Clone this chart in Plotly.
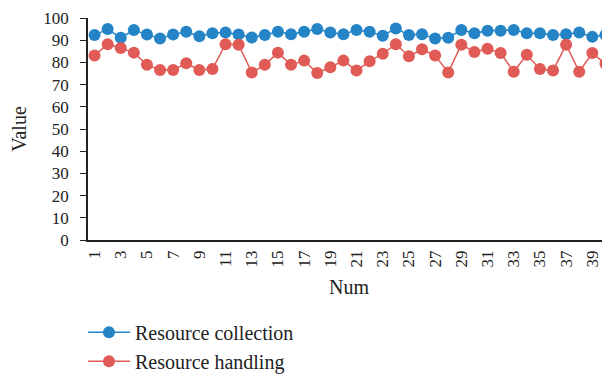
import plotly.graph_objects as go

num = list(range(1, 41))
resource_collection = [92.3, 95.0, 91.1, 94.6, 92.6, 90.8, 92.6, 93.8, 91.8, 93.1,
                       93.5, 92.6, 91.2, 92.3, 93.8, 92.7, 93.8, 95.0, 93.5, 92.7,
                       94.6, 93.8, 92.0, 95.3, 92.3, 92.7, 90.8, 91.1, 94.6, 93.1,
                       94.3, 94.3, 94.6, 93.1, 93.1, 92.3, 92.7, 93.5, 91.5, 92.3]
resource_handling = [83.1, 88.2, 86.5, 84.4, 78.9, 76.6, 76.6, 79.6, 76.6, 77.0,
                     88.2, 88.0, 75.5, 78.9, 84.4, 78.9, 80.8, 75.2, 77.8, 80.8,
                     76.3, 80.5, 83.9, 88.2, 82.8, 85.9, 83.1, 75.5, 88.0, 84.7,
                     86.2, 84.2, 75.8, 83.4, 77.0, 76.3, 88.0, 75.8, 84.2, 79.4]
x_ticks = list(range(1, 41, 2))
y_ticks = list(range(0, 101, 10))

FONT = "Liberation Serif"
BLUE = "#2484c6"
RED = "#e05b56"

fig = go.Figure()
fig.add_trace(go.Scatter(x=num, y=resource_collection, mode="lines+markers",
                         name="Resource collection", legendgroup="a",
                         line=dict(color=BLUE, width=1.5),
                         marker=dict(color=BLUE, size=12)))
fig.add_trace(go.Scatter(x=num, y=resource_handling, mode="lines+markers",
                         name="Resource handling", legendgroup="b",
                         line=dict(color=RED, width=1.5),
                         marker=dict(color=RED, size=12)))

fig.update_layout(
    width=610, height=375,
    margin=dict(l=80, r=8, t=10, b=143),
    paper_bgcolor="white", plot_bgcolor="white",
    font=dict(family=FONT, size=17, color="#222222"),
    showlegend=True,
    legend=dict(x=-0.0096, xref="paper", y=0.1872, yref="container",
                xanchor="left", yanchor="top",
                orientation="v", font=dict(family=FONT, size=20, color="#222222"),
                tracegroupgap=0, itemwidth=42, bgcolor="rgba(0,0,0,0)"),
    xaxis=dict(range=[0.5, 40.35], tickmode="array", tickvals=x_ticks,
               ticktext=[str(v) for v in x_ticks], tickangle=-90,
               showline=True, linecolor="#222222", linewidth=1.5,
               showgrid=False, zeroline=False, ticks="", ticklabelstandoff=2,
               automargin=False,
               tickfont=dict(family=FONT, size=17),
               title=dict(text="Num", font=dict(family=FONT, size=20), standoff=13)),
    yaxis=dict(range=[0, 100], tickmode="array", tickvals=y_ticks,
               showline=True, linecolor="#222222", linewidth=1.5,
               showgrid=False, zeroline=False, ticks="outside", ticklen=6,
               tickcolor="#222222", tickwidth=1.2, ticklabelstandoff=8,
               automargin=False,
               tickfont=dict(family=FONT, size=17),
               title=dict(text="Value", font=dict(family=FONT, size=20), standoff=18)),
)

fig.write_html("out.html")
